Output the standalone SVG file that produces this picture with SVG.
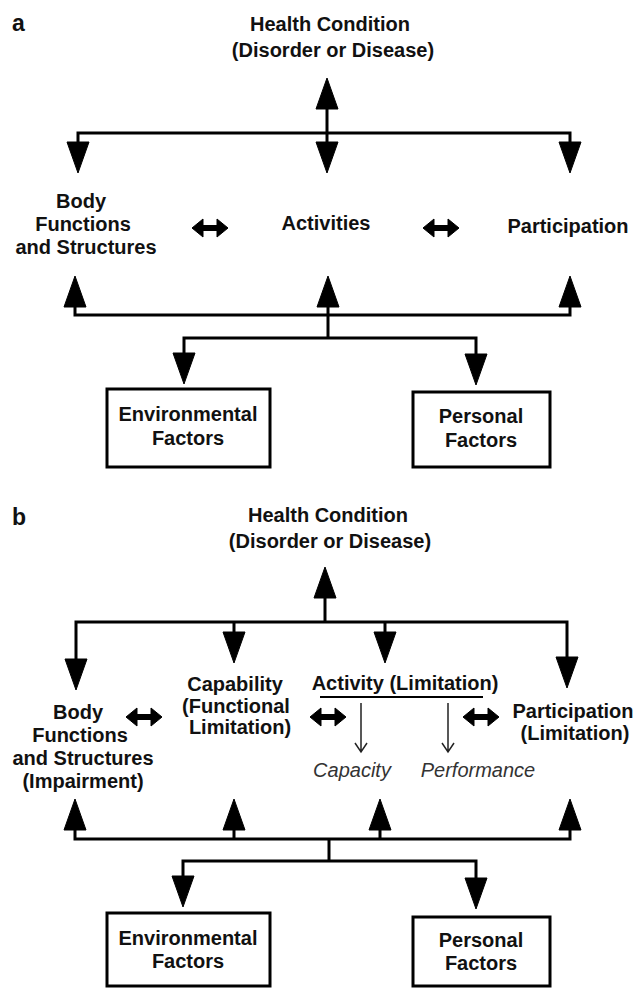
<svg xmlns="http://www.w3.org/2000/svg" width="637" height="988" viewBox="0 0 637 988">
  <defs>
    <style>
      .lbl { font-family: "Liberation Sans", Arial, sans-serif; font-size: 20px; font-weight: bold; fill: #111; text-anchor: middle; }
      .panel { font-family: "Liberation Sans", Arial, sans-serif; font-size: 23px; font-weight: bold; fill: #111; }
      .ital { font-family: "Liberation Sans", Arial, sans-serif; font-size: 20px; font-style: italic; fill: #333; text-anchor: middle; }
      .wire { fill: none; stroke: #000; stroke-width: 3; stroke-linejoin: miter; }
      .thin { fill: none; stroke: #222; stroke-width: 1.5; }
      .head { fill: #000; stroke: #000; stroke-width: 1; stroke-linejoin: round; }
      .box { fill: #fff; stroke: #000; stroke-width: 3; }
    </style>
    <!-- filled arrowheads, tip at the origin -->
    <polygon id="down" points="-11,-31 11,-31 0,0"/>
    <polygon id="up" points="-11,31 11,31 0,0"/>
    <!-- two-headed interaction arrow, centred on the origin -->
    <polygon id="dbl" points="-18,0 -7,-9 -7,-2.5 7,-2.5 7,-9 18,0 7,9 7,2.5 -7,2.5 -7,9"/>
  </defs>

  <rect width="637" height="988" fill="#fff"/>

  <!-- ===================== Panel a ===================== -->
  <text class="panel" x="12" y="31">a</text>

  <g id="a-connectors">
    <!-- health condition to the three components -->
    <path class="wire" d="M327,133 V104"/>
    <use href="#up" x="327" y="78" class="head"/>
    <path class="wire" d="M78,146 V133 H570 V146"/>
    <path class="wire" d="M327,133 V146"/>
    <use href="#down" x="78" y="173" class="head"/>
    <use href="#down" x="327" y="173" class="head"/>
    <use href="#down" x="570" y="173" class="head"/>
    <!-- interactions between components -->
    <use href="#dbl" x="210" y="228" class="head"/>
    <use href="#dbl" x="441" y="228" class="head"/>
    <!-- contextual factors to the components -->
    <path class="wire" d="M75,304 V315 H570 V304"/>
    <path class="wire" d="M328,304 V338"/>
    <use href="#up" x="75" y="276" class="head"/>
    <use href="#up" x="328" y="276" class="head"/>
    <use href="#up" x="570" y="276" class="head"/>
    <path class="wire" d="M184,356 V338 H476 V356"/>
    <use href="#down" x="184" y="384" class="head"/>
    <use href="#down" x="476" y="385" class="head"/>
  </g>

  <g id="a-health">
    <text class="lbl" x="330" y="31">Health Condition</text>
    <text class="lbl" x="333" y="57">(Disorder or Disease)</text>
  </g>
  <g id="a-body">
    <text class="lbl" x="81" y="208">Body</text>
    <text class="lbl" x="83" y="231">Functions</text>
    <text class="lbl" x="86" y="254">and Structures</text>
  </g>
  <g id="a-activities">
    <text class="lbl" x="326" y="230">Activities</text>
  </g>
  <g id="a-participation">
    <text class="lbl" x="568" y="233">Participation</text>
  </g>
  <g id="a-environmental">
    <rect class="box" x="107" y="389" width="163" height="78"/>
    <text class="lbl" x="188" y="421">Environmental</text>
    <text class="lbl" x="188" y="445">Factors</text>
  </g>
  <g id="a-personal">
    <rect class="box" x="413" y="392" width="137" height="75"/>
    <text class="lbl" x="481" y="423">Personal</text>
    <text class="lbl" x="481" y="447">Factors</text>
  </g>

  <!-- ===================== Panel b ===================== -->
  <text class="panel" x="12" y="525">b</text>

  <g id="b-connectors">
    <path class="wire" d="M325,622 V594"/>
    <use href="#up" x="325" y="567" class="head"/>
    <path class="wire" d="M76,661 V622 H567 V660"/>
    <path class="wire" d="M234,622 V635"/>
    <path class="wire" d="M385,622 V635"/>
    <use href="#down" x="76" y="690" class="head"/>
    <use href="#down" x="234" y="663" class="head"/>
    <use href="#down" x="385" y="663" class="head"/>
    <use href="#down" x="567" y="688" class="head"/>
    <!-- interactions -->
    <use href="#dbl" x="144" y="717" class="head"/>
    <use href="#dbl" x="328" y="717" class="head"/>
    <use href="#dbl" x="481" y="717" class="head"/>
    <!-- activity split into capacity and performance -->
    <path class="wire" style="stroke-width:2" d="M320,697 H483"/>
    <path class="thin" d="M361,703 V752 M355,743 L361,752 L367,743"/>
    <path class="thin" d="M448,703 V752 M442,743 L448,752 L454,743"/>
    <!-- contextual factors -->
    <path class="wire" d="M75,828 V839 H570 V828"/>
    <path class="wire" d="M234,828 V839"/>
    <path class="wire" d="M380,828 V839"/>
    <use href="#up" x="75" y="799" class="head"/>
    <use href="#up" x="234" y="799" class="head"/>
    <use href="#up" x="380" y="799" class="head"/>
    <use href="#up" x="570" y="799" class="head"/>
    <path class="wire" d="M329,839 V861"/>
    <path class="wire" d="M183,879 V861 H476 V879"/>
    <use href="#down" x="183" y="907" class="head"/>
    <use href="#down" x="476" y="909" class="head"/>
  </g>

  <g id="b-health">
    <text class="lbl" x="328" y="522">Health Condition</text>
    <text class="lbl" x="330" y="548">(Disorder or Disease)</text>
  </g>
  <g id="b-body">
    <text class="lbl" x="78" y="719">Body</text>
    <text class="lbl" x="80" y="742">Functions</text>
    <text class="lbl" x="83" y="765">and Structures</text>
    <text class="lbl" x="83" y="788">(Impairment)</text>
  </g>
  <g id="b-capability">
    <text class="lbl" x="235" y="691">Capability</text>
    <text class="lbl" x="236" y="713">(Functional</text>
    <text class="lbl" x="240" y="734">Limitation)</text>
  </g>
  <g id="b-activity">
    <text class="lbl" x="405" y="690">Activity (Limitation)</text>
  </g>
  <g id="b-capacity">
    <text class="ital" x="352" y="777">Capacity</text>
  </g>
  <g id="b-performance">
    <text class="ital" x="478" y="777">Performance</text>
  </g>
  <g id="b-participation">
    <text class="lbl" x="573" y="718">Participation</text>
    <text class="lbl" x="575" y="740">(Limitation)</text>
  </g>
  <g id="b-environmental">
    <rect class="box" x="107" y="913" width="163" height="73"/>
    <text class="lbl" x="188" y="945">Environmental</text>
    <text class="lbl" x="188" y="968">Factors</text>
  </g>
  <g id="b-personal">
    <rect class="box" x="413" y="917" width="137" height="69"/>
    <text class="lbl" x="481" y="947">Personal</text>
    <text class="lbl" x="481" y="970">Factors</text>
  </g>
</svg>
